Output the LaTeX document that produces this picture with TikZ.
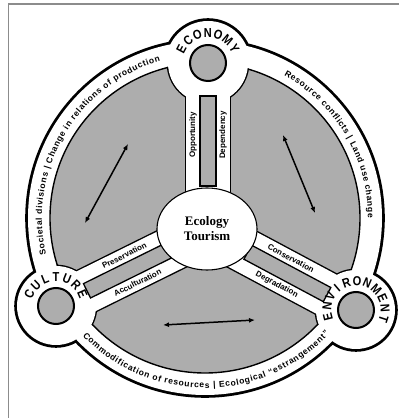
\documentclass[tikz,border=0pt]{standalone}
\usepackage{fontspec}
\setmainfont{Liberation Serif}
\setsansfont{Liberation Sans}
\newfontfamily\narrowsans[FakeStretch=0.85]{Liberation Sans}
\usetikzlibrary{shapes.geometric,decorations.text,arrows.meta,calc}

\newcommand\ringfont{\sffamily\bfseries\fontsize{8.5}{9}\selectfont}

\begin{document}
\begin{tikzpicture}[
    x=1pt, y=1pt,
    patch/.style={fill=black!32},
    core/.style={ellipse, draw=black, line width=1.1pt, fill=white, minimum width=100pt, minimum height=82pt, inner sep=0pt, align=center, font=\bfseries\fontsize{13}{15}\selectfont},
    pole/.style={circle, draw=black, line width=2pt, patch, minimum size=36pt, inner sep=0pt},
    poleletter/.style={inner sep=0pt, font=\narrowsans\bfseries\fontsize{13}{13}\selectfont},
    spokelabel/.style={font=\sffamily\bfseries\fontsize{8}{8}\selectfont, inner sep=0pt},
    arrow/.style={{Latex[length=6pt,width=5pt]}-{Latex[length=6pt,width=5pt]}, line width=1.5pt},
    arctext/.style={decorate, decoration={text along path, text format delimiters={[}{]}, text align={fit to path}, text={#1}}}
]
    \useasboundingbox (0,0) rectangle (399,418);
    % Frame
    \draw[black!45, line width=1.5pt] (8.7,0) -- (8.7,414) -- (399,414);

    % Anchors
    \coordinate (ring) at (205,200);
    \coordinate (junction) at (208,187);
    \coordinate (eco) at (208,355);
    \coordinate (cul) at (56,112);
    \coordinate (env) at (356,108);

    % Outer road with its three bulges
    \fill[black] (ring) circle[radius=179.8] (eco) circle[radius=44.8] (cul) circle[radius=41.8] (env) circle[radius=41.8];
    \fill[white] (ring) circle[radius=177] (eco) circle[radius=42] (cul) circle[radius=39] (env) circle[radius=39];

    % Shaded field
    \filldraw[patch, draw=black, line width=1.4pt] (ring) circle[radius=155];

    % Spokes cut out of the field
    \begin{scope}
        \clip (ring) circle[radius=155.7];
        \foreach \ang/\len in {90/168,206.3/170,-28.1/168}
            \fill[black, shift={(junction)}, rotate=\ang] (0,-23.4) rectangle (\len,23.4);
        \fill[black] (eco) circle[radius=41.4] (cul) circle[radius=41.4] (env) circle[radius=41.4];
    \end{scope}
    \begin{scope}
        \clip (ring) circle[radius=157];
        \foreach \ang/\len in {90/168,206.3/170,-28.1/168}
            \fill[white, shift={(junction)}, rotate=\ang] (0,-22) rectangle (\len,22);
        \fill[white] (eco) circle[radius=40] (cul) circle[radius=40] (env) circle[radius=40];
    \end{scope}

    % Bars inside the spokes
    \foreach \ang in {90,206.3,-28.1}
        \filldraw[patch, draw=black, line width=1.3pt, shift={(junction)}, rotate=\ang] (45,-8) rectangle (135,8);

    % Nodes
    \node[pole] (economy) at (eco) {};
    \node[pole] (culture) at (cul) {};
    \node[pole] (environment) at (env) {};
    \node[core] (tourism) at (207,189) {Ecology\\Tourism};

    % Spoke labels
    \node[spokelabel, rotate=90] (opportunity) at ($(junction)+(90:96)+(180:15)$) {Opportunity};
    \node[spokelabel, rotate=90] (dependency) at ($(junction)+(90:96)+(0:15)$) {Dependency};
    \node[spokelabel, rotate=26.3] (preservation) at ($(junction)+(206.3:86)+(116.3:15)$) {Preservation};
    \node[spokelabel, rotate=26.3] (acculturation) at ($(junction)+(206.3:86)+(296.3:15)$) {Acculturation};
    \node[spokelabel, rotate=-28.1] (conservation) at ($(junction)+(-28.1:86)+(61.9:15)$) {Conservation};
    \node[spokelabel, rotate=-28.1] (degradation) at ($(junction)+(-28.1:86)+(241.9:15)$) {Degradation};

    % Texts along the road
    \path[arctext={[\ringfont]Societal divisions | Change in relations of production}] ($(ring)+(193:163)$) arc[start angle=193, end angle=106, radius=163];
    \path[arctext={[\ringfont]Resource conflicts | Land use change}] ($(ring)+(61:163)$) arc[start angle=61, end angle=0, radius=163];
    \path[arctext={[\ringfont]Commodification of resources | Ecological “estrangement”}] ($(ring)+(224:170)$) arc[start angle=224, end angle=317, radius=170];

    % Names round the poles
    \foreach \ch [count=\i from 0] in {E,C,O,N,O,M,Y} {
        \pgfmathsetmacro\a{152-20.5*\i}
        \node[poleletter, rotate=\a-90] (ecoL\i) at ($(eco)+(\a:30)$) {\ch};
    }
    \foreach \ch [count=\i from 0] in {C,U,L,T,U,R,E} {
        \pgfmathsetmacro\a{156-22*\i}
        \node[poleletter, rotate=\a-90] (culL\i) at ($(cul)+(\a:29)$) {\ch};
    }
    \foreach \ch [count=\i from 0] in {E,N,V,I,R,O,N,M,E,N,T} {
        \pgfmathsetmacro\a{194-21.2*\i}
        \node[poleletter, rotate=\a-90] (envL\i) at ($(env)+(\a:29)$) {\ch};
    }

    % Arrows
    \coordinate (leftA) at (85,195);
    \coordinate (leftB) at (128,274);
    \coordinate (rightA) at (283,283);
    \coordinate (rightB) at (315,205);
    \coordinate (lowA) at (163,93);
    \coordinate (lowB) at (255,98);
    \draw[arrow] (leftA) -- (leftB);
    \draw[arrow] (rightA) -- (rightB);
    \draw[arrow] (lowA) -- (lowB);

\end{tikzpicture}
\end{document}
